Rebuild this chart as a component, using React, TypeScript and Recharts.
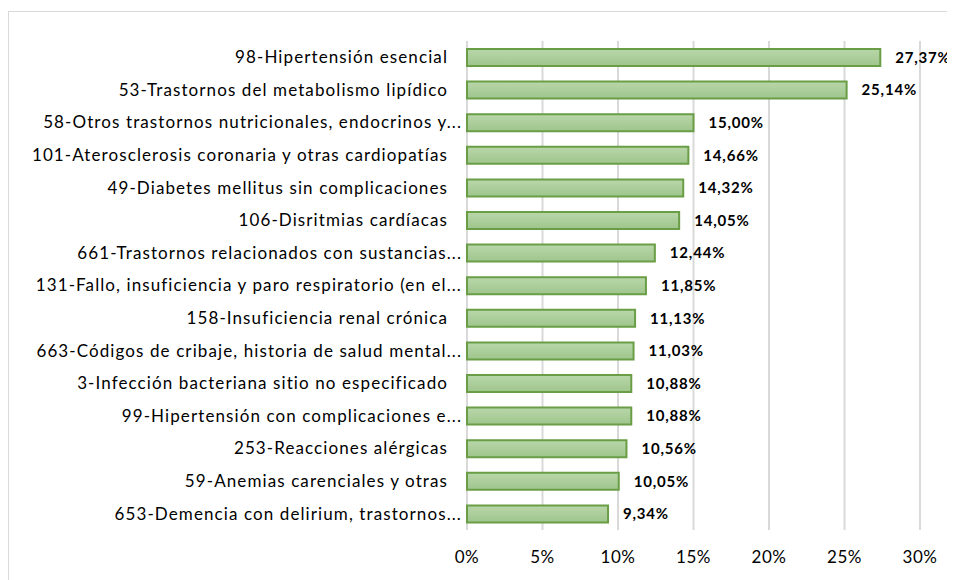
import React from 'react';
import { BarChart, Bar, XAxis, YAxis, CartesianGrid, LabelList } from 'recharts';

const categories = [
  '98-Hipertensión esencial ',
  '53-Trastornos del metabolismo lipídico ',
  '58-Otros trastornos nutricionales, endocrinos y...',
  '101-Aterosclerosis coronaria y otras cardiopatías ',
  '49-Diabetes mellitus sin complicaciones ',
  '106-Disritmias cardíacas ',
  '661-Trastornos relacionados con sustancias...',
  '131-Fallo, insuficiencia y paro respiratorio (en el...',
  '158-Insuficiencia renal crónica ',
  '663-Códigos de cribaje, historia de salud mental...',
  '3-Infección bacteriana sitio no especificado ',
  '99-Hipertensión con complicaciones e...',
  '253-Reacciones alérgicas ',
  '59-Anemias carenciales y otras ',
  '653-Demencia con delirium, trastornos...',
];
const values = [27.37, 25.14, 15.0, 14.66, 14.32, 14.05, 12.44, 11.85, 11.13, 11.03, 10.88, 10.88, 10.56, 10.05, 9.34];
const xTicks = [0, 5, 10, 15, 20, 25, 30];

const data = categories.map((name, i) => ({ name, value: values[i] }));

const FONT = 'Lato, "Noto Sans", sans-serif';

const YTick = (props: any) => {
  const { x, y, payload } = props;
  const raw: string = String(payload.value);
  const trimmed = raw.trimEnd();
  const pad = raw.length - trimmed.length;
  return (
    <text x={x - pad * 14} y={y} dy="0.35em" textAnchor="end" fill="#000" fontSize={17} fontFamily={FONT} letterSpacing={1.1}>
      {trimmed}
    </text>
  );
};

export default function App() {
  return (
    <div style={{ position: 'relative', width: 947, height: 572, overflow: 'hidden' }}>
      <div style={{ position: 'absolute', left: 0, top: 3, width: 2000, height: 2000, borderLeft: '1px solid #d9d9d9', borderTop: '1px solid #d9d9d9' }} />
      <div style={{ position: 'absolute', left: 0, top: 0 }}>
        <BarChart
          width={947}
          height={572}
          data={data}
          layout="vertical"
          margin={{ top: 33, right: 35, bottom: 20, left: 0 }}
          barSize={17}
        >
          <defs>
            <linearGradient id="barGrad" x1="0" y1="0" x2="0" y2="1">
              <stop offset="0%" stopColor="#b9d7aa" />
              <stop offset="100%" stopColor="#9fc58c" />
            </linearGradient>
          </defs>
          <CartesianGrid horizontal={false} stroke="#d9d9d9" strokeWidth={2} />
          <XAxis
            type="number"
            domain={[0, 30]}
            ticks={xTicks}
            tickFormatter={(v: number) => `${v}%`}
            axisLine={false}
            tickLine={false}
            tickSize={0}
            tickMargin={21}
            height={30}
            tick={{ fill: '#000', fontSize: 17, fontFamily: FONT, letterSpacing: 0.5 }}
            interval={0}
          />
          <YAxis
            type="category"
            dataKey="name"
            width={459}
            axisLine={false}
            tickLine={false}
            tickSize={0}
            tickMargin={5}
            tick={<YTick />}
            interval={0}
          />
          <Bar dataKey="value" fill="url(#barGrad)" stroke="#6a9e46" strokeWidth={2} isAnimationActive={false}>
            <LabelList
              dataKey="value"
              position="right"
              offset={15}
              formatter={(v: number) => v.toFixed(2).replace('.', ',') + '%'}
              style={{ fill: '#000', fontSize: 15, fontWeight: 700, fontFamily: FONT, letterSpacing: 0.8 }}
            />
          </Bar>
        </BarChart>
      </div>
    </div>
  );
}
